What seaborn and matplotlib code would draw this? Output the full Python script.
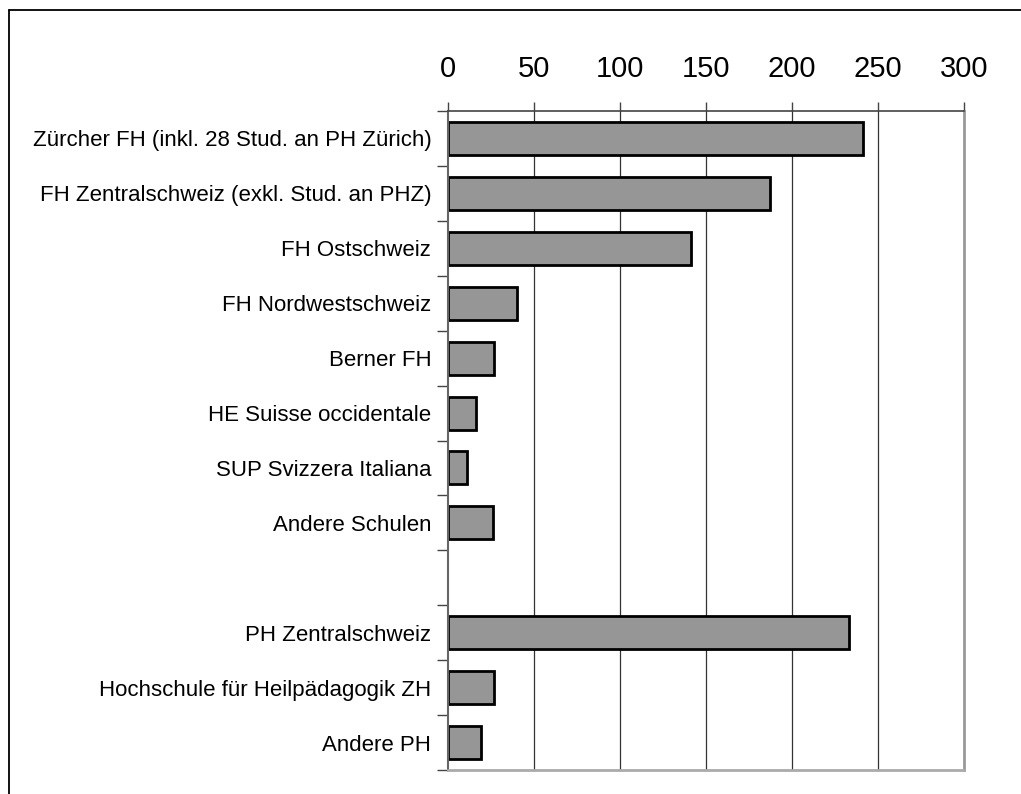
import matplotlib.pyplot as plt
import matplotlib.lines as mlines
import seaborn as sns
import pandas as pd

# categories in display order, " " marks the empty slot between the two groups
schools = [
    "Zürcher FH (inkl. 28 Stud. an PH Zürich)",
    "FH Zentralschweiz (exkl. Stud. an PHZ)",
    "FH Ostschweiz",
    "FH Nordwestschweiz",
    "Berner FH",
    "HE Suisse occidentale",
    "SUP Svizzera Italiana",
    "Andere Schulen",
    "PH Zentralschweiz",
    "Hochschule für Heilpädagogik ZH",
    "Andere PH",
]
students = [241, 187, 141, 40, 27, 16, 11, 26, 233, 27, 19]
order = schools[:8] + [" "] + schools[8:]
x_ticks = [0, 50, 100, 150, 200, 250, 300]

df = pd.DataFrame({"school": schools, "students": students})

sns.set_style("white")
plt.rcParams["font.family"] = ["Liberation Sans", "DejaVu Sans"]
plt.rcParams["text.color"] = "black"
plt.rcParams["xtick.color"] = "black"
plt.rcParams["ytick.color"] = "black"

fig = plt.figure(figsize=(10.21, 7.94), dpi=100)
ax = fig.add_axes([448 / 1021, 1 - 770 / 794, (964 - 448) / 1021, (770 - 111) / 794])

sns.barplot(data=df, x="students", y="school", order=order, orient="h",
            color="#969696", saturation=1, width=0.6,
            edgecolor="black", linewidth=2, ax=ax)

ax.set_xlim(0, 300)
ax.set_ylim(len(order) - 0.5, -0.5)
ax.set_xticks(x_ticks)
ax.xaxis.tick_top()
ax.tick_params(axis="x", which="major", top=True, bottom=False, length=6.5,
               width=1, color="#444444", labelcolor="black", pad=13.5, labelsize=21)
ax.set_xlabel("")
ax.set_ylabel("")

# labels centered in slots, tick marks on the slot boundaries
ax.set_yticks(range(len(order)))
ax.set_yticklabels(order)
ax.set_yticks([i - 0.5 for i in range(len(order) + 1)], minor=True)
ax.tick_params(axis="y", which="major", length=0, pad=12, labelsize=16, labelcolor="black")
ax.tick_params(axis="y", which="minor", left=True, length=8, width=1, color="#444444")

for v in x_ticks[1:-1]:
    ax.axvline(v, color="#333333", linewidth=0.9, zorder=0)

ax.spines["top"].set_color("#444444")
ax.spines["top"].set_linewidth(1.2)
ax.spines["left"].set_color("#666666")
ax.spines["left"].set_linewidth(1.5)
ax.spines["right"].set_color("#999999")
ax.spines["right"].set_linewidth(2)
ax.spines["bottom"].set_color("#aaaaaa")
ax.spines["bottom"].set_linewidth(2)

# outer frame of the chart (cut off at right and bottom in the source)
fx, fy = 9 / 1021, 1 - 10 / 794
fig.add_artist(mlines.Line2D([fx, fx], [0, fy], color="black", linewidth=1.3))
fig.add_artist(mlines.Line2D([fx, 1], [fy, fy], color="black", linewidth=1.3))

fig.savefig("out.png", dpi=100)
plt.close()
